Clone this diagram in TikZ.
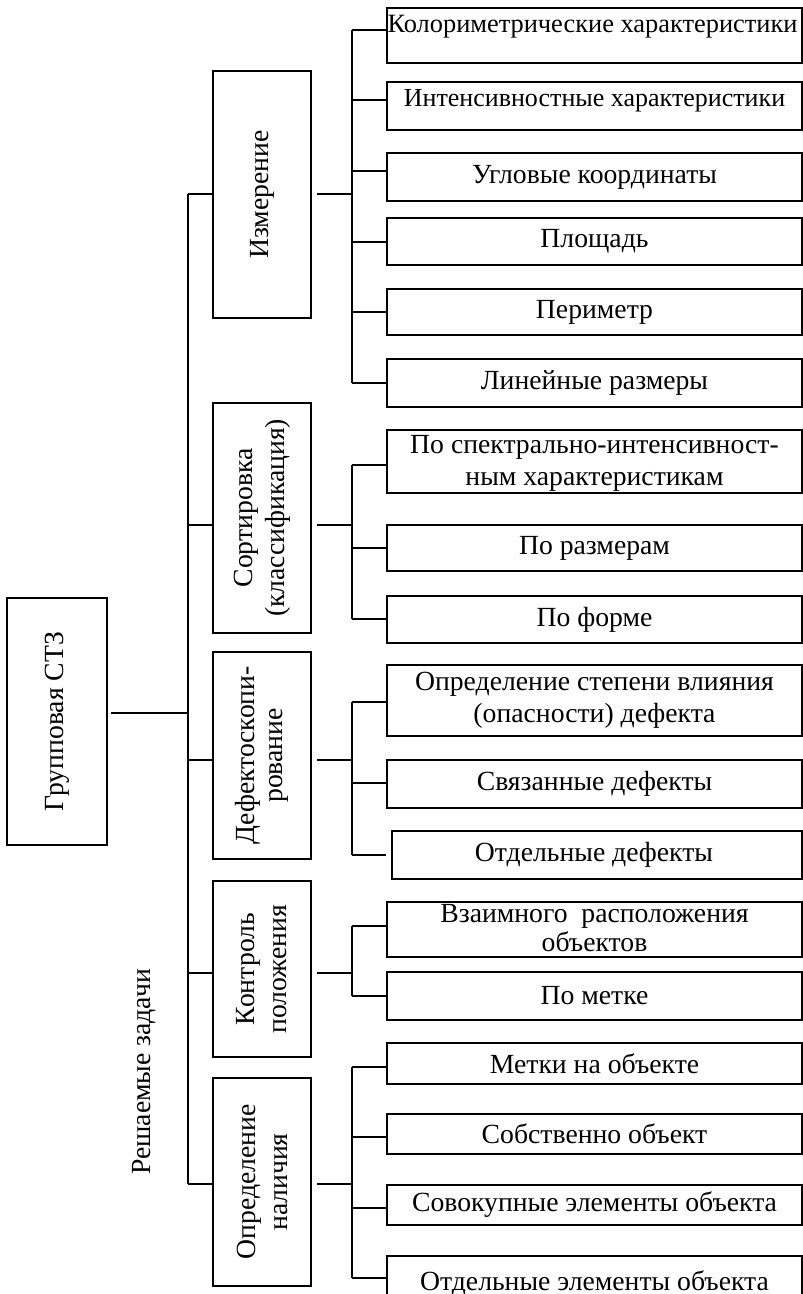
\documentclass[tikz,border=0pt]{standalone}
\usepackage{fontspec}
\setmainfont{Liberation Serif}
\begin{document}
\begin{tikzpicture}[x=1pt,y=-1pt,
  box/.style={draw=black, line width=1.4pt, rectangle, inner sep=0pt, anchor=center},
  leaf/.style={box, minimum width=415pt},
  mid/.style={box, minimum width=98pt},
  txt/.style={font=\fontsize{27.7}{32}\selectfont, align=center},
  thin/.style={line width=1.3pt},
  thick/.style={line width=2.8pt},
  med/.style={line width=1.7pt}]
\useasboundingbox (0,0) rectangle (803,1294);

% root box
\node[box, minimum width=100pt, minimum height=247pt] (root) at (57,721.5) {};
\node[txt, rotate=90] at (root.center) {Групповая СТЗ};

% second level boxes
\node[mid, minimum height=247pt] (m1) at (262,194.5) {};
\node[txt, rotate=90] at (m1.center) {Измерение};
\node[mid, minimum height=230pt] (m2) at (262,518) {};
\node[txt, rotate=90] at (m2.center) {Сортировка\\(классификация)};
\node[mid, minimum height=207pt] (m3) at (262,755.5) {};
\node[txt, rotate=90, font=\fontsize{27.7}{28}\selectfont] at (m3.center) {Дефектоскопи-\\рование};
\node[mid, minimum height=176pt] (m4) at (262,969) {};
\node[txt, rotate=90] at (m4.center) {Контроль\\положения};
\node[mid, minimum height=208pt] (m5) at (262,1182) {};
\node[txt, rotate=90] at (m5.center) {Определение\\наличия};

\node[txt, rotate=90] (lbl) at (144,1072) {Решаемые задачи};

% leaf boxes
\node[leaf, minimum height=55pt] (c1) at (594.5,35.5) {};
\node[txt, anchor=north, font=\fontsize{26.4}{30}\selectfont] at ([yshift=-4pt]c1.north) {\hspace*{-4pt}Колориметрические характеристики};
\node[leaf, minimum height=48pt] (c2) at (594.5,106) {};
\node[txt, font=\fontsize{26}{30}\selectfont] at ([yshift=5pt]c2.center) {Интенсивностные характеристики};
\node[leaf, minimum height=48pt] (c3) at (594.5,177) {};
\node[txt] at (c3.center) {Угловые координаты};
\node[leaf, minimum height=47pt] (c4) at (594.5,241.5) {};
\node[txt] at (c4.center) {Площадь};
\node[leaf, minimum height=46pt] (c5) at (594.5,312) {};
\node[txt] at (c5.center) {Периметр};
\node[leaf, minimum height=48pt] (c6) at (594.5,383) {};
\node[txt] at (c6.center) {Линейные размеры};
\node[leaf, minimum height=63pt] (c7) at (594.5,461.5) {};
\node[txt] at ([yshift=-2pt]c7.center) {По спектрально-интенсивност-\\ным характеристикам};
\node[leaf, minimum height=46pt] (c8) at (594.5,548) {};
\node[txt] at (c8.center) {По размерам};
\node[leaf, minimum height=47pt] (c9) at (594.5,619.5) {};
\node[txt] at (c9.center) {По форме};
\node[leaf, minimum height=71pt] (c10) at (594.5,700.5) {};
\node[txt] at (c10.center) {Определение степени влияния\\(опасности) дефекта};
\node[leaf, minimum height=48pt] (c11) at (594.5,784) {};
\node[txt] at (c11.center) {Связанные дефекты};
\node[box, minimum width=410pt, minimum height=48pt] (c12) at (597,855) {};
\node[txt] at ([xshift=-3pt]c12.center) {Отдельные дефекты};
\node[leaf, minimum height=55pt] (c13) at (594.5,929.5) {};
\node[txt, font=\fontsize{27.7}{29}\selectfont] at ([yshift=1pt]c13.center) {Взаимного\ \ расположения\\объектов};
\node[leaf, minimum height=48pt] (c14) at (594.5,996) {};
\node[txt] at (c14.center) {По метке};
\node[leaf, minimum height=41pt] (c15) at (594.5,1063.5) {};
\node[txt] at (c15.center) {Метки на объекте};
\node[leaf, minimum height=40pt] (c16) at (594.5,1134) {};
\node[txt] at (c16.center) {Собственно объект};
\node[leaf, minimum height=40pt] (c17) at (594.5,1205) {};
\node[txt] at (c17.center) {Совокупные элементы объекта};
\node[leaf, minimum height=50pt] (c18) at (594.5,1281) {};
\node[txt] at ([yshift=-2pt]c18.center) {Отдельные элементы объекта};

% trunk points
\coordinate (t1) at (188,194);
\coordinate (t2) at (188,525);
\coordinate (t3) at (188,760);
\coordinate (t4) at (188,973);
\coordinate (t5) at (188,1184);
\coordinate (tr) at (188,713);

% main trunk and root link
\draw[med] (t1) -- (t5);
\draw[med] ([xshift=3pt]root.east |- tr) -- (tr);

% links to second level
\draw[thick] (t1) -- (t1 -| m1.west);
\draw[thick] (t2) -- (t2 -| m2.west);
\draw[thick] (t3) -- (t3 -| m3.west);
\draw[thin] (t4) -- (t4 -| m4.west);
\draw[thin] (t5) -- (t5 -| m5.west);

% branch points on the second trunks
\coordinate (s1) at (352,194);
\coordinate (s2) at (352,525);
\coordinate (s3) at (352,760);
\coordinate (s4) at (352,973);
\coordinate (s5) at (352,1184);
\draw[thick] ([xshift=5pt]m1.east |- s1) -- (s1);
\draw[thick] ([xshift=5pt]m2.east |- s2) -- (s2);
\draw[thick] ([xshift=5pt]m3.east |- s3) -- (s3);
\draw[med] ([xshift=5pt]m4.east |- s4) -- (s4);
\draw[med] ([xshift=5pt]m5.east |- s5) -- (s5);

% leaf link points
\foreach \n/\y in {1/30,2/100,3/171,4/242,5/312,6/383,7/465,8/548,9/619,10/702,11/783,12/855,13/926,14/996,15/1067,16/1137,17/1208,18/1278}
  \coordinate (b\n) at (352,\y);

% second trunks
\draw[med] (b1) -- (b6);
\draw[med] (b7) -- (b9);
\draw[med] (b10) -- (b12);
\draw[med] (b13) -- (b14);
\draw[med] (b15) -- (b18);

% links to leaves
\foreach \n in {1,2,3,4,5,6,8,10,11,15,16,17,18}
  \draw[thin] (b\n) -- (b\n -| c\n.west);
\foreach \n in {7,9,13,14}
  \draw[thick] (b\n) -- (b\n -| c\n.west);
\draw[thick] (b12) -- ([xshift=-5pt]b12 -| c12.west);
\end{tikzpicture}
\end{document}
